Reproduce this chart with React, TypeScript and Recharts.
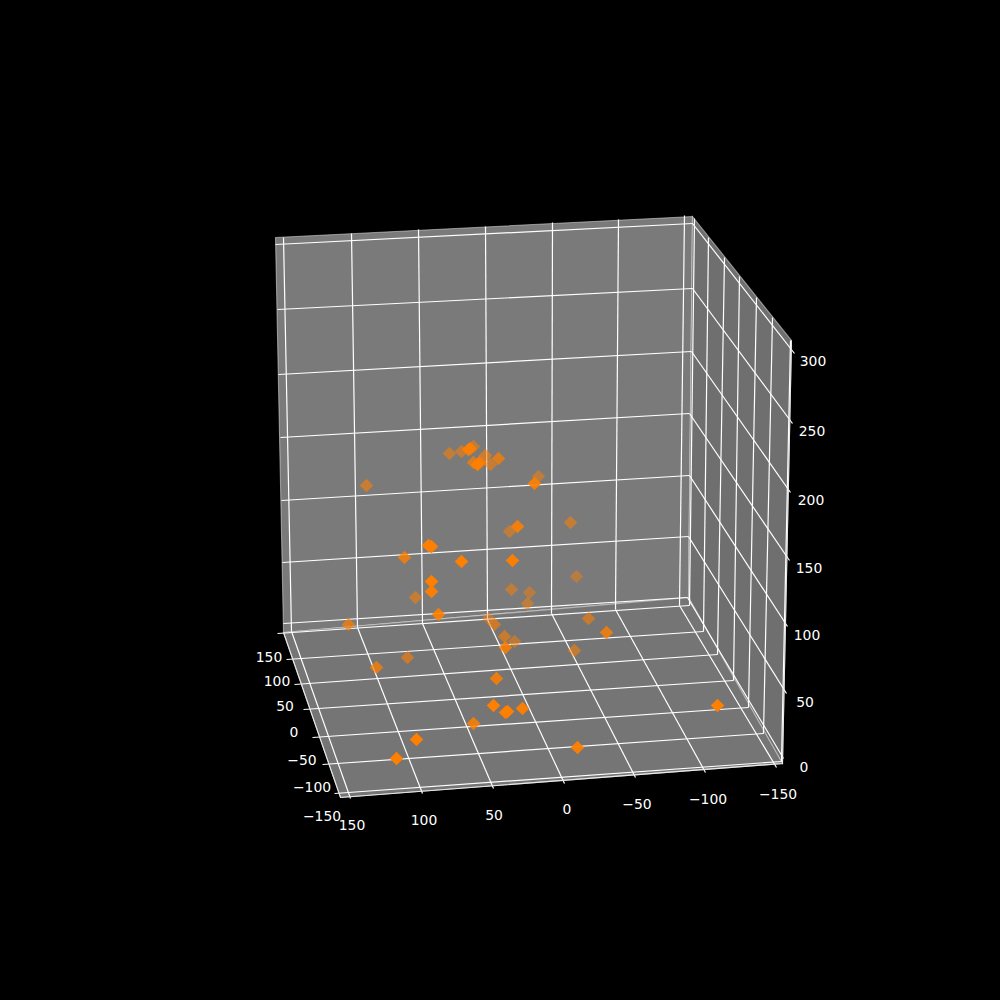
import { ScatterChart, Scatter, XAxis, YAxis } from "recharts"

// picture of a 3D scatter: everything below is already projected onto the 1000x1000 view
type Pt = [number, number]

const backPane: Pt[] = [[275, 237], [692, 216], [688, 597], [283, 632]]
const sidePane: Pt[] = [[692, 216], [791, 340], [782, 763], [688, 597]]
const floorPane: Pt[] = [[283, 632], [688, 597], [782, 763], [340, 797]]
const axisEdges: Pt[] = [[283, 632], [340, 797], [782, 763], [791, 340]]

// x ticks, 150 to -150
const xGridTop: Pt[] = [[283, 237], [351, 233], [418, 229], [485, 226], [552, 222], [618, 219], [684, 215]]
const xGridWall: Pt[] = [[291, 631], [357, 627], [422, 623], [487, 619], [551, 613], [615, 609], [679, 605]]
const xGridFront: Pt[] = [[350, 798], [422, 793], [493, 788], [564, 783], [635, 777], [705, 772], [776, 767]]

// y ticks, 150 to -150
const yGridLeft: Pt[] = [[277, 633], [286, 659], [294, 684], [303, 709], [312, 737], [322, 764], [334, 793]]
const yGridFloorEnd: Pt[] = [[689, 605], [703, 631], [717, 654], [733, 680], [748, 707], [763, 733], [781, 761]]
const yGridTop: Pt[] = [[694, 218], [708, 237], [724, 257], [739, 276], [756, 297], [772, 317], [790, 340]]

// z ticks, 300 to 0
const zGridLeft: Pt[] = [[275, 244], [277, 309], [278, 374], [280, 437], [281, 500], [282, 562], [283, 623]]
const zGridCorner: Pt[] = [[692, 223], [692, 288], [691, 351], [689, 413], [689, 475], [688, 536], [687, 597]]
const zGridRight: Pt[] = [[794, 353], [792, 423], [790, 492], [789, 560], [787, 626], [786, 693], [783, 758]]

const xTickLabels = ["150", "100", "50", "0", "\u221250", "\u2212100", "\u2212150"]
const xLabelPos: Pt[] = [[351.5, 824], [423.5, 819], [493.5, 814], [566.5, 808], [636.5, 803], [707.5, 798], [777.5, 793]]
const yTickLabels = ["150", "100", "50", "0", "\u221250", "\u2212100", "\u2212150"]
const yLabelPos: Pt[] = [[268.5, 656], [276.5, 680], [284.5, 705], [293.5, 731], [301.5, 759], [311.5, 786], [321.5, 815]]
const zTickLabels = ["300", "250", "200", "150", "100", "50", "0"]
const zLabelPos: Pt[] = [[812.5, 360], [811.5, 430], [810.5, 499], [808.5, 567], [806.5, 634], [804.5, 701], [803.5, 766]]

// markers, back to front, with their depth shade
const pointX = [529, 576, 511, 488, 527, 538, 473, 514, 509, 449, 461, 490, 494, 415, 574, 504, 407, 570, 366, 588, 485, 348, 473, 376, 470, 404, 606, 438, 505, 496, 473, 534, 517, 498, 468, 479, 431, 512, 577, 505, 522, 477, 428, 431, 431, 461, 493, 507, 396, 416, 717]
const pointY = [592, 576, 589, 618, 603, 476, 446, 641, 531, 453, 451, 464, 624, 597, 650, 636, 657, 522, 485, 618, 455, 624, 462, 667, 448, 557, 632, 614, 647, 678, 723, 483, 526, 458, 449, 462, 591, 560, 747, 712, 708, 464, 545, 546, 581, 561, 705, 711, 758, 739, 705]
const pointShade = [0.45, 0.45, 0.5, 0.45, 0.5, 0.5, 0.5, 0.5, 0.5, 0.55, 0.55, 0.55, 0.6, 0.55, 0.55, 0.6, 0.6, 0.55, 0.6, 0.6, 0.6, 0.7, 0.7, 0.75, 0.8, 0.8, 0.8, 0.9, 0.85, 0.85, 0.85, 0.9, 0.9, 0.75, 0.9, 0.9, 0.95, 0.95, 0.95, 0.95, 0.95, 1, 1, 1, 1, 1, 1, 1, 1, 1, 1]

const points = pointX.map((x, i) => ({ x, y: pointY[i], shade: pointShade[i] }))

const toRows = (pts: Pt[]) => pts.map(([x, y]) => ({ x, y }))

const gridSegments: Pt[][] = [
  ...xGridTop.map((p, i) => [p, xGridWall[i]]),
  ...xGridWall.map((p, i) => [p, xGridFront[i]]),
  ...yGridLeft.map((p, i) => [p, yGridFloorEnd[i]]),
  ...yGridFloorEnd.map((p, i) => [p, yGridTop[i]]),
  ...zGridLeft.map((p, i) => [p, zGridCorner[i]]),
  ...zGridCorner.map((p, i) => [p, zGridRight[i]]),
]

const labelRows = [
  ...xTickLabels.map((label, i) => ({ x: xLabelPos[i][0], y: xLabelPos[i][1], label })),
  ...yTickLabels.map((label, i) => ({ x: yLabelPos[i][0], y: yLabelPos[i][1], label })),
  ...zTickLabels.map((label, i) => ({ x: zLabelPos[i][0], y: zLabelPos[i][1], label })),
]

const NoMark = () => <g />

const paneLine = (color: string) => (props: any) => (
  <polygon
    points={props.points.map((p: any) => `${p.x},${p.y}`).join(" ")}
    fill={color}
    stroke="rgba(242,242,242,0.5)"
    strokeWidth={1.1}
  />
)

const Diamond = (props: any) => {
  const { cx, cy, payload } = props
  const r = 6.8
  return (
    <polygon
      points={`${cx},${cy - r} ${cx + r},${cy} ${cx},${cy + r} ${cx - r},${cy}`}
      fill="#ff7f00"
      fillOpacity={payload.shade}
    />
  )
}

const TickText = (props: any) => (
  <text
    x={props.cx}
    y={props.cy}
    fill="#ffffff"
    fontFamily="DejaVu Sans"
    fontSize={13.9}
    textAnchor="middle"
    dominantBaseline="central"
  >
    {props.payload.label}
  </text>
)

export default function App() {
  return (
    <div style={{ position: "fixed", left: 0, top: 0, width: 1000, height: 1000, background: "#000000" }}>
      <ScatterChart width={1000} height={1000} margin={{ top: 0, right: 0, bottom: 0, left: 0 }}>
        <XAxis type="number" dataKey="x" domain={[-0.5, 999.5]} hide />
        <YAxis type="number" dataKey="y" domain={[-0.5, 999.5]} reversed hide />
        <Scatter data={toRows(backPane)} line={paneLine("#7a7a7a")} shape={NoMark} isAnimationActive={false} />
        <Scatter data={toRows(sidePane)} line={paneLine("#6f6f6f")} shape={NoMark} isAnimationActive={false} />
        <Scatter data={toRows(floorPane)} line={paneLine("#757575")} shape={NoMark} isAnimationActive={false} />
        {gridSegments.map((seg, i) => (
          <Scatter
            key={i}
            data={toRows(seg)}
            line={{ stroke: "#ffffff", strokeWidth: 1.2 }}
            shape={NoMark}
            isAnimationActive={false}
          />
        ))}
        <Scatter
          data={toRows(axisEdges)}
          line={{ stroke: "#e8e8e8", strokeWidth: 1.1 }}
          shape={NoMark}
          isAnimationActive={false}
        />
        <Scatter data={labelRows} shape={TickText} isAnimationActive={false} />
        <Scatter data={points} shape={Diamond} isAnimationActive={false} />
      </ScatterChart>
    </div>
  )
}
